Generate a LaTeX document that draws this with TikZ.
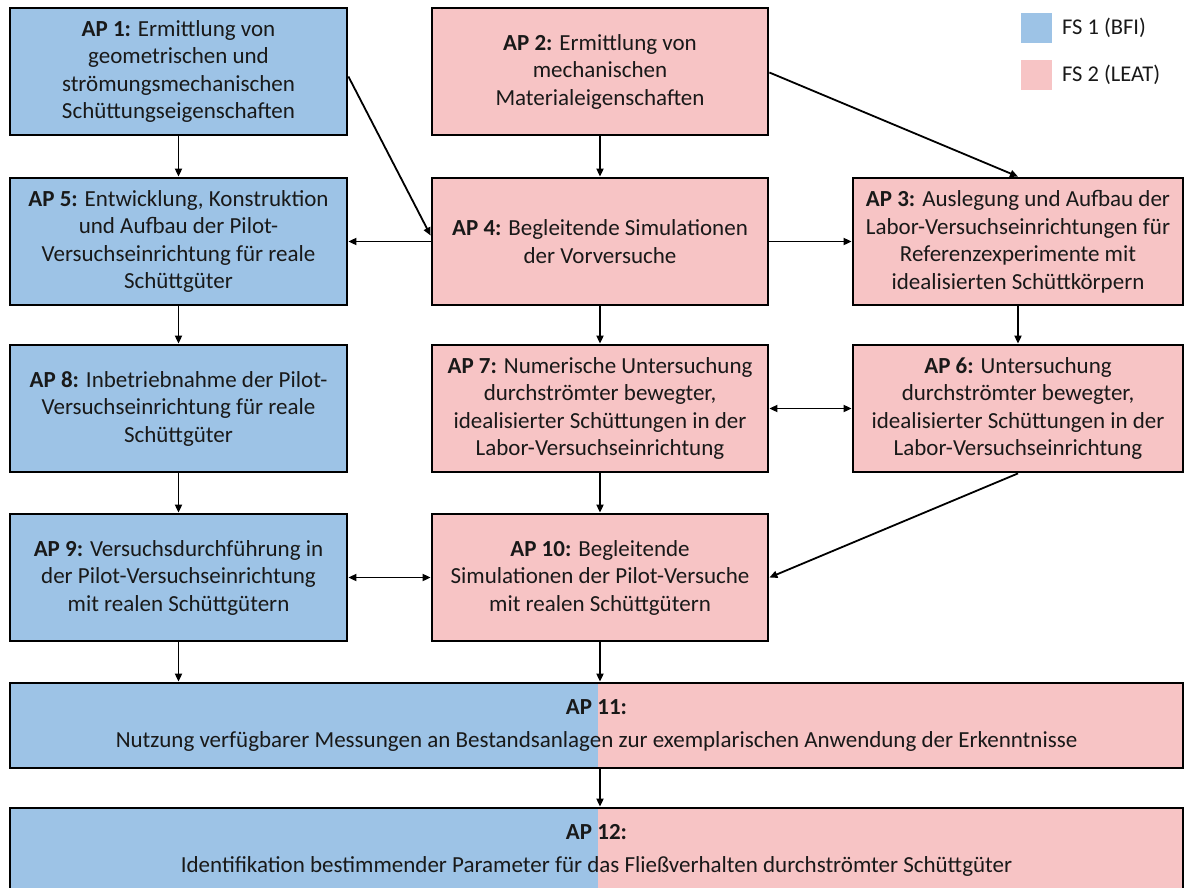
\documentclass[tikz,border=0pt]{standalone}
\usepackage{fontspec}
\setmainfont{Carlito}
\usetikzlibrary{arrows.meta,calc}
\definecolor{bfi}{RGB}{157,195,230}
\definecolor{leat}{RGB}{247,196,197}
\definecolor{txt}{RGB}{25,25,25}
\tikzset{
  apbox/.style={draw=black, line width=2.8pt, inner sep=0pt, align=center,
    text=txt, font=\fontsize{23}{27.5}\selectfont},
  bluebox/.style={apbox, fill=bfi, minimum width=337pt, minimum height=127pt},
  pinkbox/.style={apbox, fill=leat, minimum width=336pt, minimum height=127pt},
  pinkboxr/.style={apbox, fill=leat, minimum width=330pt, minimum height=127pt},
  widebox/.style={apbox, minimum width=1173pt, minimum height=85pt},
  arr/.style={line width=1.8pt, -{Triangle[length=8pt,width=7pt]}},
  darr/.style={line width=1.8pt, {Triangle[length=8pt,width=7pt]}-{Triangle[length=8pt,width=7pt]}},
  legtext/.style={anchor=west, inner sep=0pt, text=txt, font=\fontsize{22.5}{26}\selectfont}
}
\begin{document}
\begin{tikzpicture}[x=1pt,y=1pt]
\useasboundingbox (0,0) rectangle (1186,-887);
\clip (0,0) rectangle (1186,-887);
\fill[white] (0,0) rectangle (1186,-887);

% row 1
\node[bluebox] (ap1) at (178.5,-71.5) {\textbf{AP 1:} Ermittlung von\\geometrischen und\\strömungsmechanischen\\Schüttungseigenschaften};
\node[pinkbox] (ap2) at (600,-71.5) {\textbf{AP 2:} Ermittlung von\\mechanischen\\Materialeigenschaften};

% legend
\node[fill=bfi, minimum width=31pt, minimum height=30pt, inner sep=0pt] (l1) at (1036.5,-28) {};
\node[legtext] (t1) at (1062,-28) {FS 1 (BFI)};
\node[fill=leat, minimum width=31pt, minimum height=30pt, inner sep=0pt] (l2) at (1036.5,-75) {};
\node[legtext] (t2) at (1062,-75) {FS 2 (LEAT)};

% row 2
\node[bluebox] (ap5) at (178.5,-241.5) {\textbf{AP 5:} Entwicklung, Konstruktion\\und Aufbau der Pilot-\\Versuchseinrichtung für reale\\Schüttgüter};
\node[pinkbox] (ap4) at (600,-241.5) {\textbf{AP 4:} Begleitende Simulationen\\der Vorversuche};
\node[pinkboxr] (ap3) at (1018,-241.5) {\textbf{AP 3:} Auslegung und Aufbau der\\Labor-Versuchseinrichtungen für\\Referenzexperimente mit\\idealisierten Schüttkörpern};

% row 3
\node[bluebox] (ap8) at (178.5,-408.5) {\textbf{AP 8:} Inbetriebnahme der Pilot-\\Versuchseinrichtung für reale\\Schüttgüter};
\node[pinkbox] (ap7) at (600,-408.5) {\textbf{AP 7:} Numerische Untersuchung\\durchströmter bewegter,\\idealisierter Schüttungen in der\\Labor-Versuchseinrichtung};
\node[pinkboxr] (ap6) at (1018,-408.5) {\textbf{AP 6:} Untersuchung\\durchströmter bewegter,\\idealisierter Schüttungen in der\\Labor-Versuchseinrichtung};

% row 4
\node[bluebox] (ap9) at (178.5,-577.5) {\textbf{AP 9:} Versuchsdurchführung in\\der Pilot-Versuchseinrichtung\\mit realen Schüttgütern};
\node[pinkbox] (ap10) at (600,-577.5) {\textbf{AP 10:} Begleitende\\Simulationen der Pilot-Versuche\\mit realen Schüttgütern};

% wide boxes
\fill[bfi] (10,-683) rectangle (598,-768);
\fill[leat] (598,-683) rectangle (1183,-768);
\node[widebox] (ap11) at (596.5,-725.5) {\textbf{AP 11:}\\[6pt]Nutzung verfügbarer Messungen an Bestandsanlagen zur exemplarischen Anwendung der Erkenntnisse};
\fill[bfi] (10,-808) rectangle (598,-893);
\fill[leat] (598,-808) rectangle (1183,-893);
\node[widebox] (ap12) at (596.5,-850.5) {\textbf{AP 12:}\\[6pt]Identifikation bestimmender Parameter für das Fließverhalten durchströmter Schüttgüter};

% connectors
\draw[arr] (ap1.south) -- (ap5.north);
\draw[arr] (ap2.south) -- (ap4.north);
\draw[arr] ([yshift=-5pt]ap1.east) -- ([yshift=6pt]ap4.west);
\draw[arr] (ap4.west) -- (ap5.east);
\draw[arr] (ap4.east) -- (ap3.west);
\draw[arr] ([yshift=-1pt]ap2.east) -- (ap3.north);
\draw[arr] (ap5.south) -- (ap8.north);
\draw[arr] (ap4.south) -- (ap7.north);
\draw[arr] (ap3.south) -- (ap6.north);
\draw[darr] (ap7.east) -- (ap6.west);
\draw[arr] (ap8.south) -- (ap9.north);
\draw[arr] (ap7.south) -- (ap10.north);
\draw[arr] (ap6.south) -- (ap10.east);
\draw[darr] (ap9.east) -- (ap10.west);
\draw[arr] (ap9.south) -- (ap9.south |- ap11.north);
\draw[arr] (ap10.south) -- (ap10.south |- ap11.north);
\draw[arr] (ap10.south |- ap11.south) -- (ap10.south |- ap12.north);
\end{tikzpicture}
\end{document}
